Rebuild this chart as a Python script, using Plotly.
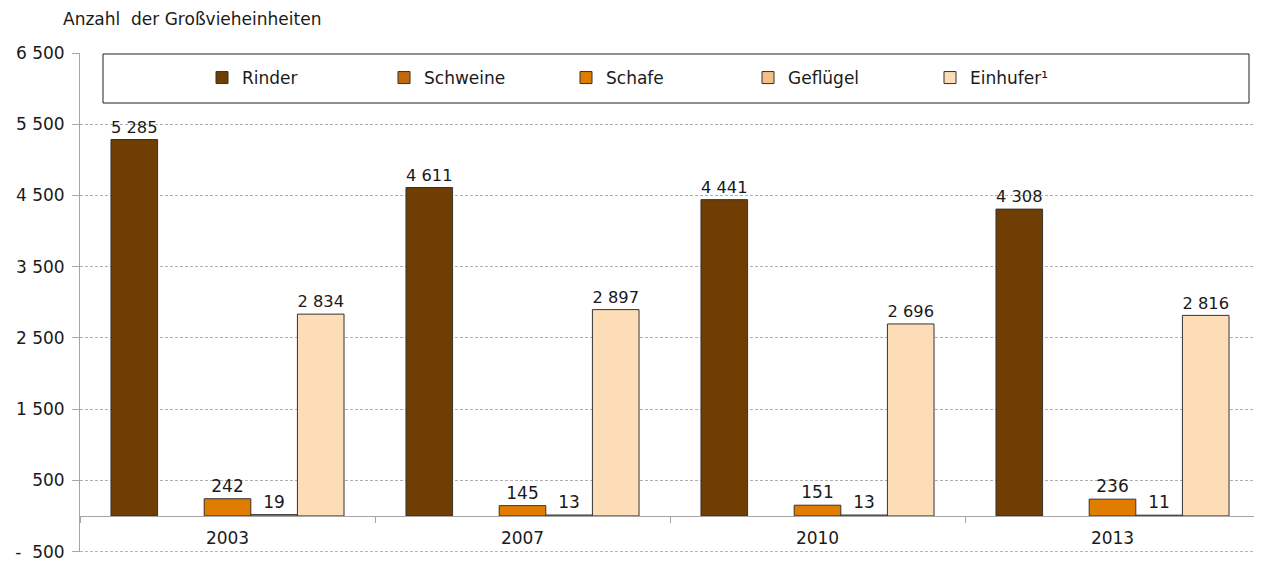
import plotly.graph_objects as go

years = ["2003", "2007", "2010", "2013"]
series_names = ["Rinder", "Schweine", "Schafe", "Geflügel", "Einhufer¹"]
rinder = [5285, 4611, 4441, 4308]
schweine = [None, None, None, None]
schafe = [242, 145, 151, 236]
gefluegel = [19, 13, 13, 11]
einhufer = [2834, 2897, 2696, 2816]
colors = ["#703D02", "#C2690C", "#E07C00", "#F8BF84", "#FDDDB8"]

y_tickvals = [-500, 500, 1500, 2500, 3500, 4500, 5500, 6500]
y_ticktext = ["-  500", "500", "1 500", "2 500", "3 500", "4 500", "5 500", "6 500"]

FONT = "DejaVu Sans"
FS = 17
OFF = 8  # page body margin offset


def fmt(v):
    return "" if v is None else f"{v:,}".replace(",", " ")


fig = go.Figure()
for name, vals, col in zip(series_names, [rinder, schweine, schafe, gefluegel, einhufer], colors):
    fig.add_trace(go.Bar(
        x=years, y=vals, name=name,
        marker=dict(color=col, line=dict(color="#333333", width=1)),
        text=[fmt(v) for v in vals], textposition="outside",
        textfont=dict(family=FONT, size=FS, color="#1a1a1a"),
        cliponaxis=False,
    ))

W, H = 1262, 562
Y_TOP, Y_BOT = 53, 552
ml, mt = 80 - OFF, Y_TOP - OFF
mr = W - (1260 - OFF)
mb = H - (Y_BOT - OFF)
pw = W - ml - mr
ph = H - mt - mb

YMIN, YMAX = -506, 6500


def px_x(x):
    return (x - OFF - ml) / pw


def px_y(y):
    return (H - mb - (y - OFF)) / ph


zero_pos = (0 - YMIN) / (YMAX - YMIN)

fig.update_layout(
    width=W, height=H,
    margin=dict(l=ml, r=mr, t=mt, b=mb, autoexpand=False),
    paper_bgcolor="white", plot_bgcolor="white",
    barmode="group", bargap=0.21, bargroupgap=0,
    font=dict(family=FONT, size=FS, color="#1a1a1a"),
    showlegend=True,
    legend=dict(
        orientation="h", x=px_x(202), y=px_y(78), xanchor="left", yanchor="middle",
        entrywidth=137, entrywidthmode="pixels", itemwidth=30,
        bgcolor="rgba(0,0,0,0)", borderwidth=0,
        font=dict(family=FONT, size=FS, color="#1a1a1a"),
        traceorder="normal", itemclick=False, itemdoubleclick=False,
    ),
    xaxis=dict(
        type="category", anchor="free", position=zero_pos,
        showline=True, linecolor="#A6A6A6", linewidth=1,
        ticks="outside", tickson="boundaries", ticklen=6, tickcolor="#A6A6A6",
        showgrid=False, zeroline=False,
        tickfont=dict(family=FONT, size=FS, color="#1a1a1a"),
        ticklabelstandoff=7,
    ),
    yaxis=dict(
        range=[YMIN, YMAX], tickvals=y_tickvals, ticktext=y_ticktext,
        showline=True, linecolor="#A6A6A6", linewidth=1,
        ticks="outside", ticklen=7, tickcolor="#A6A6A6",
        showgrid=True, gridcolor="#B0B0B0", griddash="3px,2px", gridwidth=1,
        zeroline=False,
        tickfont=dict(family=FONT, size=FS, color="#1a1a1a"),
        ticklabelstandoff=4,
    ),
    shapes=[
        dict(
            type="line", xref="paper", yref="y", x0=0, x1=1,
            y0=y_tickvals[0], y1=y_tickvals[0],
            line=dict(color="#B0B0B0", width=1, dash="3px,2px"), layer="below",
        ),
        dict(
            type="rect", xref="paper", yref="paper",
            x0=px_x(103), x1=px_x(1249), y0=px_y(103), y1=px_y(54),
            line=dict(color="#202020", width=1), fillcolor="white", layer="above",
        ),
    ],
    annotations=[dict(
        text="Anzahl  der Großvieheinheiten", xref="paper", yref="paper",
        x=px_x(61), y=px_y(19), xanchor="left", yanchor="middle",
        showarrow=False, font=dict(family=FONT, size=FS, color="#1a1a1a"),
    )],
)

fig.write_html("out.html")
